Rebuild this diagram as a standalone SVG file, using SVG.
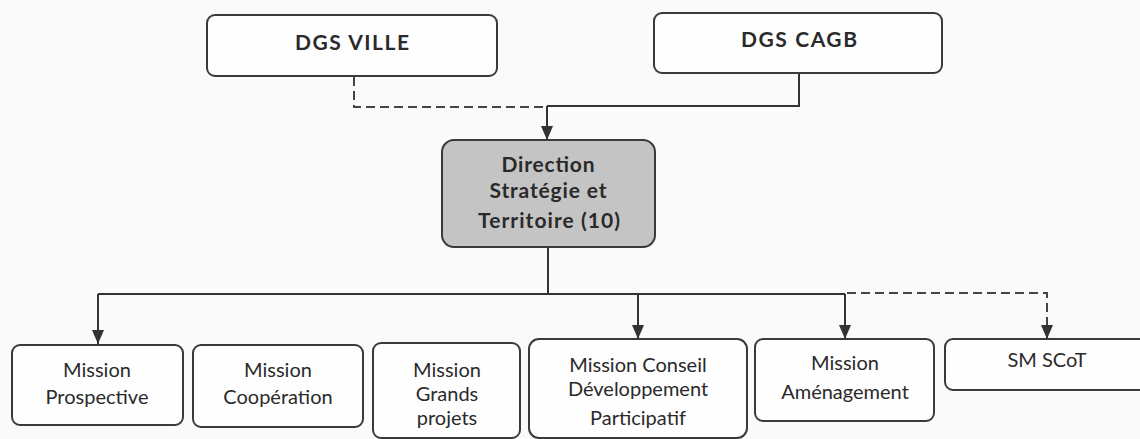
<svg xmlns="http://www.w3.org/2000/svg" width="1140" height="439" viewBox="0 0 1140 439">
  <style>
    .box { fill: #fefefe; stroke: #3a3a3a; stroke-width: 2; }
    .main { fill: #c4c4c4; stroke: #3a3a3a; stroke-width: 2; }
    .head { font-family: Lato, "Liberation Sans", sans-serif; font-weight: bold; font-size: 21px; fill: #2a2a2a; text-anchor: middle; }
    .lbl { font-family: Lato, "Liberation Sans", sans-serif; font-size: 20px; fill: #2a2a2a; text-anchor: middle; }
    .line { fill: none; stroke: #333; stroke-width: 2; }
    .dash { fill: none; stroke: #444; stroke-width: 2; stroke-dasharray: 9 5; }
  </style>
  <defs>
    <!-- filled triangular head, tip on the end of the line -->
    <marker id="arrow" viewBox="0 0 14 12" refX="14" refY="6" markerWidth="14" markerHeight="12" markerUnits="userSpaceOnUse" orient="auto">
      <path d="M0 0 L14 6 L0 12 Z" fill="#333"/>
    </marker>
  </defs>
  <rect x="0" y="0" width="1140" height="439" fill="#fafafa"/>

  <g id="connectors">
    <!-- top level to direction -->
    <path class="dash" d="M354 77 V107 H547"/>
    <path class="line" d="M799 74 V106 H547"/>
    <path class="line" d="M547 106 V140" marker-end="url(#arrow)"/>
    <!-- direction to missions -->
    <path class="line" d="M548 248 V294"/>
    <path class="line" d="M98 294 H845"/>
    <path class="line" d="M98 294 V344" marker-end="url(#arrow)"/>
    <path class="line" d="M638 294 V339" marker-end="url(#arrow)"/>
    <path class="line" d="M845 294 V339" marker-end="url(#arrow)"/>
    <path class="dash" d="M847 293 H1047 V339" marker-end="url(#arrow)"/>
  </g>

  <g id="dgs-ville">
    <rect class="box" x="207" y="15" width="290" height="61" rx="8"/>
    <text class="head" x="352" y="50" textLength="114" lengthAdjust="spacing">DGS VILLE</text>
  </g>

  <g id="dgs-cagb">
    <rect class="box" x="654" y="13" width="288" height="60" rx="8"/>
    <text class="head" x="799" y="47" textLength="116" lengthAdjust="spacing">DGS CAGB</text>
  </g>

  <g id="direction">
    <rect class="main" x="442" y="140" width="213" height="107" rx="12"/>
    <text class="head" x="548" y="172" textLength="93" lengthAdjust="spacing">Direction</text>
    <text class="head" x="548" y="198" textLength="117" lengthAdjust="spacing">Stratégie et</text>
    <text class="head" x="549" y="228" textLength="142" lengthAdjust="spacing">Territoire (10)</text>
  </g>

  <g id="mission-prospective">
    <rect class="box" x="12" y="345" width="171" height="80" rx="8"/>
    <text class="lbl" x="97" y="377">Mission</text>
    <text class="lbl" x="97" y="404">Prospective</text>
  </g>

  <g id="mission-cooperation">
    <rect class="box" x="193" y="345" width="170" height="82" rx="8"/>
    <text class="lbl" x="278" y="377">Mission</text>
    <text class="lbl" x="278" y="404">Coopération</text>
  </g>

  <g id="mission-grands-projets">
    <rect class="box" x="373" y="343" width="147" height="95" rx="8"/>
    <text class="lbl" x="447" y="377">Mission</text>
    <text class="lbl" x="447" y="401">Grands</text>
    <text class="lbl" x="447" y="425">projets</text>
  </g>

  <g id="mission-conseil">
    <rect class="box" x="529" y="339" width="218" height="99" rx="10"/>
    <text class="lbl" x="638" y="372">Mission Conseil</text>
    <text class="lbl" x="638" y="396">Développement</text>
    <text class="lbl" x="638" y="425">Participatif</text>
  </g>

  <g id="mission-amenagement">
    <rect class="box" x="755" y="339" width="179" height="82" rx="8"/>
    <text class="lbl" x="845" y="370">Mission</text>
    <text class="lbl" x="845" y="399">Aménagement</text>
  </g>

  <g id="sm-scot">
    <rect class="box" x="945" y="339" width="205" height="51" rx="8"/>
    <text class="lbl" x="1047" y="367">SM SCoT</text>
  </g>
</svg>
